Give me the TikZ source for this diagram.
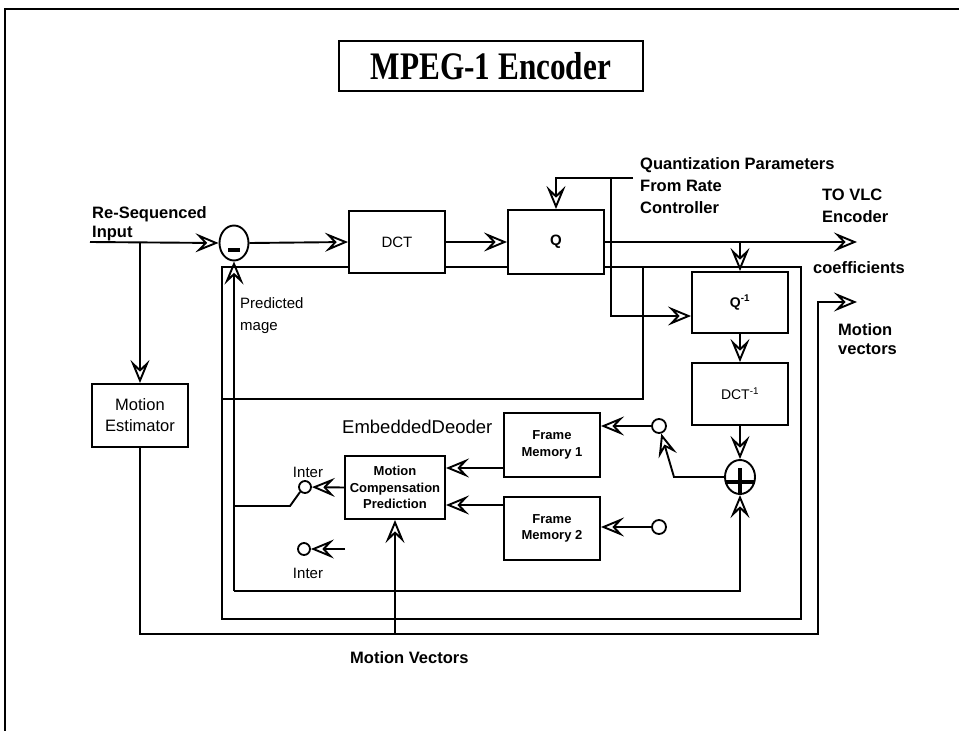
\documentclass[tikz,border=0pt]{standalone}
\usepackage{fontspec}
\setmainfont{Liberation Sans}
\newfontfamily\titlefont{Liberation Serif}
\usepackage{graphicx}
\usetikzlibrary{shapes.geometric, arrows.meta, positioning}
\tikzset{
  block/.style={rectangle, draw, line width=1.9pt, fill=white, align=center,
                inner sep=0pt, font=\fontsize{15}{18}\selectfont},
  smallblock/.style={block, font=\fontsize{13}{16.5}\selectfont\bfseries},
  arrow/.style={-{Stealth[open, length=23pt, width=19pt, inset=9pt]}, line width=1.9pt},
  wire/.style={line width=1.9pt},
  contact/.style={circle, draw, line width=1.8pt, fill=white, minimum size=14pt, inner sep=0pt},
  junction/.style={ellipse, draw, line width=1.9pt, fill=white, inner sep=0pt},
  boldlbl/.style={inner sep=0pt, align=left, font=\fontsize{16.5}{22}\selectfont\bfseries},
  plainlbl/.style={inner sep=0pt, align=left, font=\fontsize{15}{22}\selectfont},
}

\begin{document}
\begin{tikzpicture}[x=1pt, y=-1pt]
  \useasboundingbox (0,0) rectangle (959,731);
  \draw[line width=1.4pt] (5,731) -- (5,9) -- (959,9);

  \node[block, line width=1.4pt, minimum width=304pt, minimum height=50pt,
        font=\titlefont\fontsize{39}{40}\selectfont\bfseries] (title) at (491,66)
        {\scalebox{0.8}[1]{MPEG-1 Encoder}};

  % loop regions
  \draw[wire] (222,267) rectangle (801,619);
  \draw[wire] (222,399) -- (643,399) -- (643,267);

  \node[block, minimum width=96pt, minimum height=62pt] (dct) at (397,242) {DCT};
  \node[block, minimum width=96pt, minimum height=64pt,
        font=\fontsize{15}{18}\selectfont\bfseries] (q) at (556,242) {Q};
  \node[block, minimum width=96pt, minimum height=61pt,
        font=\fontsize{14}{18}\selectfont\bfseries] (qinv) at (740,302.5) {Q\textsuperscript{-1}};
  \node[block, minimum width=96pt, minimum height=62pt,
        font=\fontsize{14}{18}\selectfont] (dctinv) at (740,394) {DCT\textsuperscript{-1}};
  \node[block, minimum width=96pt, minimum height=63pt,
        font=\fontsize{16.5}{21}\selectfont] (me) at (140,415.5) {Motion\\Estimator};
  \node[smallblock, minimum width=100pt, minimum height=63pt] (mcp) at (395,487.5)
        {Motion\\Compensation\\Prediction};
  \node[smallblock, minimum width=96pt, minimum height=64pt] (fmone) at (552,445) {Frame\\Memory 1};
  \node[smallblock, minimum width=96pt, minimum height=63pt] (fmtwo) at (552,528.5) {Frame\\Memory 2};

  \node[junction, minimum width=29pt, minimum height=35pt] (sub) at (234,243) {};
  \draw[line width=3.5pt] (228,250) -- (240,250);
  \node[junction, minimum width=30pt, minimum height=34pt] (add) at (740,477) {};
  \draw[line width=3.2pt] (725,482) -- (755,482);
  \draw[line width=3.2pt] (740,468) -- (740,494);

  \node[contact] (cone) at (659,426) {};
  \node[contact] (ctwo) at (659,527) {};
  \node[contact, minimum size=12pt] (cinter) at (305,487) {};
  \node[contact, minimum size=12pt] (cinterb) at (304,549) {};

  \node[boldlbl, anchor=base west, font=\fontsize{16.5}{19}\selectfont\bfseries] (resq) at (92,237)
        {Re-Sequenced\\Input};
  \node[boldlbl, anchor=base west] (qplbl) at (640,213) {Quantization Parameters\\From Rate\\Controller};
  \node[boldlbl, anchor=base west] (vlclbl) at (822,222) {TO VLC\\Encoder};
  \node[boldlbl, anchor=base west] (coeflbl) at (813,273) {coefficients};
  \node[boldlbl, anchor=base west, font=\fontsize{16.5}{19}\selectfont\bfseries] (mvlbl) at (838,354)
        {Motion\\vectors};
  \node[plainlbl, anchor=base west] (predlbl) at (240,330) {Predicted\\mage};
  \node[plainlbl, anchor=base west, font=\fontsize{18.5}{22}\selectfont] (emblbl) at (342,433)
        {EmbeddedDeoder};
  \node[plainlbl, anchor=base] (interlbl) at (308,477) {Inter};
  \node[plainlbl, anchor=base] (interlblb) at (308,578) {Inter};
  \node[boldlbl, anchor=base west, font=\fontsize{16.5}{20}\selectfont\bfseries] (mvecs) at (350,663)
        {Motion Vectors};

  \coordinate (inp) at (90,242);
  \coordinate (mej) at (140,242);
  \coordinate (vlc) at (857,242);
  \coordinate (qp) at (633,178);
  \coordinate (qpj) at (611,178);
  \coordinate (qpk) at (611,316);
  \coordinate (bend) at (674,477);
  \coordinate (fma) at (504,468);
  \coordinate (fmb) at (504,505);
  \coordinate (fbl) at (234,591);
  \coordinate (fbr) at (740,591);
  \coordinate (swl) at (234,506);
  \coordinate (swk) at (290,506);
  \coordinate (mvl) at (140,634);
  \coordinate (mvr) at (818,634);
  \coordinate (mvj) at (395,634);
  \coordinate (mvout) at (857,302);
  \coordinate (intrasrc) at (345,549);

  \foreach \a/\b in {inp/sub.west, sub.east/dct.west, dct.east/q.west, q.east/vlc,
                     qinv/dctinv, dctinv/add, mej/me.north, mvj/mcp.south,
                     mcp.west/cinter, intrasrc/cinterb, fbl/sub.south}
    \draw[arrow] (\a) -- (\b);

  \draw[arrow] (qinv.north |- q.east) -- (qinv.north);
  \draw[arrow] (qp) -- (q.north |- qp) -- (q.north);
  \draw[arrow] (qpj) -- (qpk) -- (qpk -| qinv.west);
  \draw[arrow] (add.west) -- (bend) -- (cone);
  \draw[arrow] (cone) -- (fmone.east |- cone);
  \draw[arrow] (ctwo) -- (fmtwo.east |- ctwo);
  \draw[arrow] (fma) -- (fma -| mcp.east);
  \draw[arrow] (fmb) -- (fmb -| mcp.east);
  \draw[arrow] (fbl) -- (fbr) -- (add.south);
  \draw[arrow] (me.south) -- (mvl) -- (mvr) -- (mvr |- mvout) -- (mvout);
  \draw[wire] (swl) -- (swk) -- (cinter.south west);
\end{tikzpicture}
\end{document}
